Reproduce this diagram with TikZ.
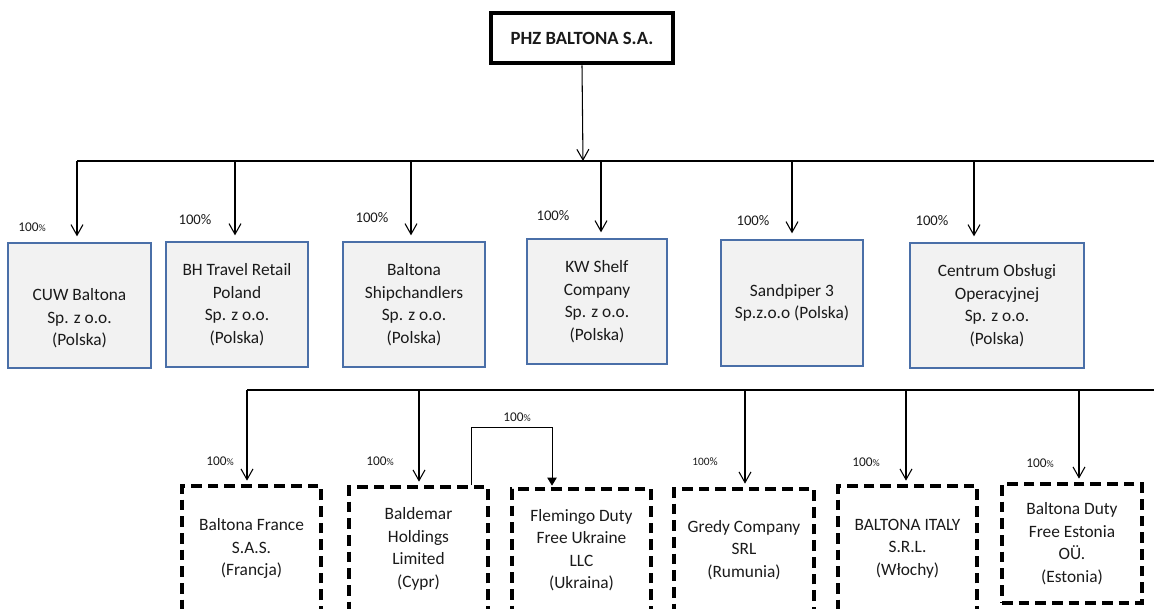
\documentclass[tikz,border=0pt]{standalone}
\usepackage{fontspec}
\setmainfont{Carlito}
\usetikzlibrary{arrows.meta}
\definecolor{boxfill}{HTML}{F2F2F2}
\definecolor{boxline}{HTML}{4A6FA8}
\definecolor{txt}{HTML}{1A1A1A}
\tikzset{
 px/.style={x=0.75pt,y=-0.75pt},
 titlebox/.style={draw=black, line width=3.5pt, fill=white, minimum width=182*0.75pt, minimum height=50*0.75pt, inner sep=0pt, text=txt, font=\bfseries\fontsize{14}{17}\selectfont},
 cobox/.style={draw=boxline, line width=1pt, fill=boxfill, inner sep=0pt, align=center, font=\fontsize{13}{16.9}\selectfont, text=txt},
 subbox/.style={draw=black, line width=3pt, dash pattern=on 8pt off 4.5pt, inner sep=0pt, align=center, font=\fontsize{13}{16.9}\selectfont, text=txt},
 bus/.style={draw=black, line width=1pt},
 arr/.style={draw=black, line width=0.8pt, -{Straight Barb[length=8pt,width=9pt]}},
 linkarr/.style={draw=black, line width=0.75pt, -{Triangle[length=6pt,width=7pt]}},
 pct/.style={inner sep=0pt, text=txt, font=\fontsize{11}{13}\selectfont},
 pcts/.style={inner sep=0pt, text=txt, font=\fontsize{10}{12}\selectfont},
 pctxs/.style={inner sep=0pt, text=txt, font=\fontsize{8.5}{10}\selectfont},
}
\newcommand\smallpct{{\fontsize{7.5}{9}\selectfont\%}}
\begin{document}
\begin{tikzpicture}[px]
\useasboundingbox (0,0) rectangle (1154,608);
\clip (0,0) rectangle (1154,608);
% title
\node[titlebox] (title) at (582,38) {PHZ BALTONA S.A.};
% top bus
\coordinate (hub) at (583,161);
\coordinate (busL) at (77,161);
\coordinate (busR) at (1154,161);
\draw[bus] (busL) -- (busR);
\draw[arr] (title.south) -- (hub);
% first-level companies
\node[cobox, minimum width=143*0.75pt, minimum height=125*0.75pt] (cuw) at (79.5,305.5) {\strut\\CUW Baltona\\Sp. z o.o.\\(Polska)};
\node[cobox, minimum width=142*0.75pt, minimum height=125*0.75pt] (bh) at (237,304.5) {BH Travel Retail\\Poland\\Sp. z o.o.\\(Polska)};
\node[cobox, minimum width=142*0.75pt, minimum height=125*0.75pt] (ship) at (414,304.5) {Baltona\\Shipchandlers\\Sp. z o.o.\\(Polska)};
\node[cobox, minimum width=140*0.75pt, minimum height=125*0.75pt] (kw) at (597,301.5) {KW Shelf\\Company\\Sp. z o.o.\\(Polska)};
\node[cobox, minimum width=142*0.75pt, minimum height=126*0.75pt] (sand) at (792,303) {Sandpiper 3\\Sp.z.o.o (Polska)};
\node[cobox, minimum width=174*0.75pt, minimum height=125*0.75pt] (cob) at (997,305.5) {Centrum Obsługi\\Operacyjnej\\Sp. z o.o.\\(Polska)};
% arrows to first level
\coordinate (t1) at (77,161);
\coordinate (t2) at (235,161);
\coordinate (t3) at (411,161);
\coordinate (t4) at (601,161);
\coordinate (t5) at (792,161);
\coordinate (t6) at (974,161);
\draw[arr, shorten >=4.5pt] (t1) -- (t1 |- cuw.north);
\draw[arr, shorten >=4.5pt] (t2) -- (t2 |- bh.north);
\draw[arr, shorten >=4.5pt] (t3) -- (t3 |- ship.north);
\draw[arr, shorten >=4.5pt] (t4) -- (t4 |- kw.north);
\draw[arr, shorten >=4.5pt] (t5) -- (t5 |- sand.north);
\draw[arr, shorten >=4.5pt] (t6) -- (t6 |- cob.north);
% first-level percentages
\node[pcts] (p1) at (32,227) {100\smallpct};
\node[pct] (p2) at (195,220) {100\%};
\node[pct] (p3) at (372,218) {100\%};
\node[pct] (p4) at (553,216) {100\%};
\node[pct] (p5) at (753,221) {100\%};
\node[pct] (p6) at (932,221) {100\%};
% bottom bus
\coordinate (bbL) at (247,390);
\coordinate (bbR) at (1154,390);
\draw[bus] (bbL) -- (bbR);
% second-level companies (cut by the page edge, except Estonia)
\node[subbox, minimum width=139*0.75pt, minimum height=125*0.75pt] (fr) at (251.5,548.5) {Baltona France\\S.A.S.\\(Francja)};
\node[subbox, minimum width=139*0.75pt, minimum height=124*0.75pt] (bald) at (418.5,549) {Baldemar\\Holdings\\Limited\\(Cypr)};
\node[subbox, minimum width=139*0.75pt, minimum height=122*0.75pt] (flem) at (581.5,550) {Flemingo Duty\\Free Ukraine\\LLC\\(Ukraina)};
\node[subbox, minimum width=140*0.75pt, minimum height=122*0.75pt] (gredy) at (744,550) {Gredy Company\\SRL\\(Rumunia)};
\node[subbox, minimum width=139*0.75pt, minimum height=125*0.75pt] (italy) at (907.5,548.5) {BALTONA ITALY\\S.R.L.\\(Włochy)};
\node[subbox, minimum width=140*0.75pt, minimum height=119*0.75pt] (est) at (1072,543.5) {Baltona Duty\\Free Estonia\\OÜ.\\(Estonia)};
% arrows to second level
\coordinate (s1) at (247,390);
\coordinate (s2) at (419,390);
\coordinate (s3) at (745,390);
\coordinate (s4) at (906,390);
\coordinate (s5) at (1079,390);
\draw[arr, shorten >=2.5pt] (s1) -- (s1 |- fr.north);
\draw[arr, shorten >=2.5pt] (s2) -- (s2 |- bald.north);
\draw[arr, shorten >=2.5pt] (s3) -- (s3 |- gredy.north);
\draw[arr, shorten >=2.5pt] (s4) -- (s4 |- italy.north);
\draw[arr, shorten >=2.5pt] (s5) -- (s5 |- est.north);
% Baldemar -> Flemingo
\coordinate (lk1) at (471,427);
\coordinate (lk2) at (552,427);
\draw[linkarr, shorten >=1pt] (lk1 |- bald.north) -- (lk1) -- (lk2) -- (lk2 |- flem.north);
% second-level percentages
\node[pcts] (q1) at (220,461) {100\smallpct};
\node[pcts] (q2) at (380,461) {100\smallpct};
\node[pcts] (q3) at (517,417) {100\smallpct};
\node[pctxs] (q4) at (705,462) {100\%};
\node[pcts] (q5) at (866,462) {100\smallpct};
\node[pcts] (q6) at (1040,463) {100\smallpct};
\end{tikzpicture}
\end{document}
